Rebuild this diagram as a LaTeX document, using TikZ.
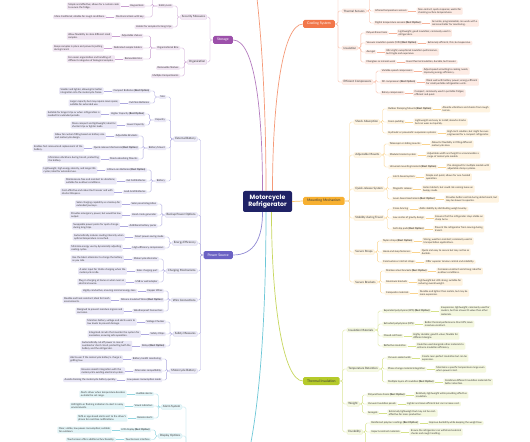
\documentclass[tikz,border=0pt]{standalone}
\usepackage{fontspec}
\setmainfont{Lato}
\newfontfamily\titlefont{Poppins}
\usetikzlibrary{calc,positioning}
\definecolor{ink}{HTML}{3A3A3A}
\definecolor{navy}{HTML}{1F2266}
\definecolor{cool}{HTML}{F2774A}
\definecolor{store}{HTML}{9C50AA}
\definecolor{mount}{HTML}{F7B031}
\definecolor{power}{HTML}{6B62C4}
\definecolor{insul}{HTML}{B5CA2A}
\definecolor{alert}{HTML}{3BB4C9}
\tikzset{
  rootbox/.style={fill=navy, text=white, rounded corners=2bp, minimum width=49bp, minimum height=21bp, align=center, inner sep=1bp, font=\titlefont\bfseries\fontsize{6.2}{7.4}\selectfont},
  topicbox/.style={fill=#1, rounded corners=1.5bp, minimum height=8bp, inner xsep=4bp, inner ysep=1bp, font=\fontsize{3.5}{4.2}\selectfont},
  subbox/.style={fill=#1!13, draw=#1!30, line width=0.25bp, rounded corners=1bp, inner xsep=1.6bp, inner ysep=1bp, text=ink, font=\fontsize{2.9}{3.4}\selectfont},
  itembox/.style={fill=#1!15, rounded corners=1bp, inner xsep=1.5bp, inner ysep=0.9bp, text=ink, font=\fontsize{2.5}{3.2}\selectfont},
  leafbox/.style={itembox=#1, align=left},
  linkline/.style={draw=#1!55, line width=0.35bp, rounded corners=1.5bp},
  branchline/.style={draw=#1!75, line width=0.7bp},
}

\begin{document}
\begin{tikzpicture}[x=1bp,y=-1bp]
\useasboundingbox (0,0) rectangle (530,442);
\clip (0,0) rectangle (530,442);
\fill[white] (0,0) rectangle (530,442);

\node[rootbox] (center) at (267.5,201.5) {Motorcycle\\Refrigerator};
% topics and children lying outside the frame
\coordinate (topbranch) at (232,-90);
\coordinate (alertin) at (228,500);
\coordinate (alertroot) at (190,500);

% storage (left, top)
\node[topicbox=store, text=white, anchor=east] (storage) at (233,40) {Storage};
\node[subbox=store, anchor=east] (secmeas) at ($(storage.west)+(-6,-23)$) {Security Measures};
\node[subbox=store, anchor=east] (organiz) at ($(storage.west)+(-6,22)$) {Organization};
\node[itembox=store, anchor=east] (safelock) at ($(secmeas.west)+(-7,-11)$) {Safety Lock};
\node[itembox=store, anchor=east] (holder) at ($(secmeas.west)+(-7,10)$) {Holder for samples for long trips};
\node[itembox=store, anchor=east] (keypad) at ($(safelock.west)+(-12,0)$) {Keypad lock};
\node[itembox=store, anchor=east] (mechlock) at ($(safelock.west)+(-12,11)$) {Mechanical lock with key};
\coordinate (lockup) at ($(safelock.west)+(-12,-14)$);
\node[itembox=store, anchor=east] (orgbins) at ($(organiz.west)+(-7,-14)$) {Organizational Bins};
\node[itembox=store, anchor=east] (remshelf) at ($(organiz.west)+(-7,6)$) {Removable Shelves};
\node[itembox=store, anchor=east] (multicomp) at ($(organiz.west)+(-7,14)$) {Multiple Compartments};
\node[itembox=store, anchor=east] (adjshelf) at ($(orgbins.west)+(-12,-12)$) {Adjustable shelves};
\node[itembox=store, anchor=east] (dedhold) at ($(orgbins.west)+(-12,0)$) {Dedicated sample holders};
\node[itembox=store, anchor=east] (rembins) at ($(orgbins.west)+(-12,11)$) {Removable bins};
\node[leafbox=store, left=8bp of keypad] (keypad-t) {Simple and effective; allows for a custom code\\to secure the fridge.};
\node[leafbox=store, left=8bp of mechlock] (mechlock-t) {More traditional; reliable for rough conditions.};
\node[leafbox=store, left=8bp of adjshelf] (adjshelf-t) {Allow flexibility to store different sized\\samples.};
\node[leafbox=store, left=8bp of dedhold] (dedhold-t) {Keeps samples in place and prevents jostling\\during transit.};
\node[leafbox=store, left=8bp of rembins] (rembins-t) {For easier organization and handling of\\different categories of biological samples.};
\foreach \c in {secmeas,organiz} \draw[linkline=store] (storage.west) -- ++(-3,0) |- (\c.east);
\foreach \c in {safelock,holder} \draw[linkline=store] (secmeas.west) -- ++(-3,0) |- (\c.east);
\foreach \c in {keypad,mechlock} \draw[linkline=store] (safelock.west) -- ++(-5,0) |- (\c.east);
\draw[linkline=store] (safelock.west) -- ++(-5,0) |- (lockup);
\foreach \c in {orgbins,remshelf,multicomp} \draw[linkline=store] (organiz.west) -- ++(-3,0) |- (\c.east);
\foreach \c in {adjshelf,dedhold,rembins} \draw[linkline=store] (orgbins.west) -- ++(-5,0) |- (\c.east);
\foreach \c in {keypad,mechlock,adjshelf,dedhold,rembins} \draw[linkline=store] (\c.west) -- (\c-t.east);

% power source (left, middle)
\node[topicbox=power, text=white, anchor=east] (power) at (233,255) {Power Source};
\node[subbox=power, anchor=east] (extbat) at ($(power.west)+(-6,-116)$) {External Battery};
\node[subbox=power, anchor=east] (backup) at ($(power.west)+(-6,-40)$) {Backup Power Options};
\node[subbox=power, anchor=east] (energy) at ($(power.west)+(-6,-12)$) {Energy Efficiency};
\node[subbox=power, anchor=east] (charging) at ($(power.west)+(-6,16)$) {Charging Mechanisms};
\node[subbox=power, anchor=east] (wires) at ($(power.west)+(-6,45)$) {Wire Connections};
\node[subbox=power, anchor=east] (psafety) at ($(power.west)+(-6,79)$) {Safety Measures};
\node[subbox=power, anchor=east] (motobat) at ($(power.west)+(-6,116)$) {Motorcycle Battery};
\node[itembox=power, anchor=east] (size) at ($(extbat.west)+(-7,-42)$) {Size};
\node[itembox=power, anchor=east] (capacity) at ($(extbat.west)+(-7,-19)$) {Capacity};
\node[itembox=power, anchor=east] (batmount) at ($(extbat.west)+(-7,9)$) {Battery Mount};
\node[itembox=power, anchor=east] (battery) at ($(extbat.west)+(-7,42)$) {Battery};
\node[itembox=power, anchor=east] (compact) at ($(size.west)+(-8,-6)$) {Compact Batteries \textbf{(Best Option)}};
\node[itembox=power, anchor=east] (fullsize) at ($(size.west)+(-8,6)$) {Full-Size Batteries};
\node[itembox=power, anchor=east] (higher) at ($(capacity.west)+(-8,-6)$) {Higher Capacity \textbf{(Best Option)}};
\node[itembox=power, anchor=east] (lower) at ($(capacity.west)+(-8,5)$) {Lower Capacity};
\node[itembox=power, anchor=east] (adjbr) at ($(batmount.west)+(-8,-12)$) {Adjustable Brackets};
\node[itembox=power, anchor=east] (quickmech) at ($(batmount.west)+(-8,0)$) {Quick-release Mechanism \textbf{(Best Option)}};
\node[itembox=power, anchor=east] (shockmt) at ($(batmount.west)+(-8,11)$) {Shock-absorbing Mounts};
\node[itembox=power, anchor=east] (liion) at ($(battery.west)+(-8,-11)$) {Lithium-ion Batteries \textbf{(Best Option)}};
\node[itembox=power, anchor=east] (gelcell) at ($(battery.west)+(-8,0)$) {Gel Cell Batteries};
\node[itembox=power, anchor=east] (leadacid) at ($(battery.west)+(-8,11)$) {Lead-Acid Batteries};
\node[itembox=power, anchor=east] (solarpan) at ($(backup.west)+(-7,-11)$) {Solar panel integration};
\node[itembox=power, anchor=east] (handcrank) at ($(backup.west)+(-7,0)$) {Hand-crank generator};
\node[itembox=power, anchor=east] (addpacks) at ($(backup.west)+(-7,11)$) {Additional battery packs};
\node[itembox=power, anchor=east] (smartsave) at ($(energy.west)+(-7,-6)$) {Smart power-saving mode};
\node[itembox=power, anchor=east] (higheff) at ($(energy.west)+(-7,5)$) {High-efficiency compressors};
\node[itembox=power, anchor=east] (alternator) at ($(charging.west)+(-7,-12)$) {Motorcycle alternator};
\node[itembox=power, anchor=east] (solarport) at ($(charging.west)+(-7,0)$) {Solar charging port};
\node[itembox=power, anchor=east] (usbwall) at ($(charging.west)+(-7,11)$) {USB or wall adapter};
\node[itembox=power, anchor=east] (copper) at ($(wires.west)+(-7,-9)$) {Copper Wires};
\node[itembox=power, anchor=east] (silicone) at ($(wires.west)+(-7,0)$) {Silicone Insulated Wires \textbf{(Best Option)}};
\node[itembox=power, anchor=east] (weatherc) at ($(wires.west)+(-7,11)$) {Weatherproof Connectors};
\node[itembox=power, anchor=east] (voltage) at ($(psafety.west)+(-7,-12)$) {Voltage Checker};
\node[itembox=power, anchor=east] (chips) at ($(psafety.west)+(-7,0)$) {Safety Chips};
\node[itembox=power, anchor=east] (relays) at ($(psafety.west)+(-7,12)$) {Relays \textbf{(Best Option)}};
\node[itembox=power, anchor=east] (healthmon) at ($(motobat.west)+(-7,-12)$) {Battery health monitoring};
\node[itembox=power, anchor=east] (altcompat) at ($(motobat.west)+(-7,0)$) {Alternator compatibility};
\node[itembox=power, anchor=east] (lowpower) at ($(motobat.west)+(-7,9)$) {Low power consumption mode};
\node[leafbox=power, left=8bp of compact] (compact-t) {Smaller and lighter, allowing for better\\integration into the motorcycle frame.};
\node[leafbox=power, left=8bp of fullsize] (fullsize-t) {Larger capacity but may require more space;\\suitable for extended use.};
\node[leafbox=power, left=8bp of higher] (higher-t) {Suitable for longer trips or when refrigeration is\\needed for extended periods.};
\node[leafbox=power, left=8bp of lower] (lower-t) {More compact and lightweight; ideal for\\shorter trips or lighter loads.};
\node[leafbox=power, left=8bp of adjbr] (adjbr-t) {Allow for custom fitting based on battery size\\and motorcycle design.};
\node[leafbox=power, left=8bp of quickmech] (quickmech-t) {Enables fast removal and replacement of the\\battery.};
\node[leafbox=power, left=8bp of shockmt] (shockmt-t) {Minimizes vibrations during transit, protecting\\the battery.};
\node[leafbox=power, left=8bp of liion] (liion-t) {Lightweight, high energy density, and longer life\\cycles; ideal for extended use.};
\node[leafbox=power, left=8bp of gelcell] (gelcell-t) {Maintenance-free and resistant to vibrations;\\suitable for outdoor conditions.};
\node[leafbox=power, left=8bp of leadacid] (leadacid-t) {Cost-effective and robust but heavier and with\\shorter lifespans.};
\node[leafbox=power, left=8bp of solarpan] (solarpan-t) {Solar charging capability as a backup for\\extended journeys.};
\node[leafbox=power, left=8bp of handcrank] (handcrank-t) {Provides emergency power, but would be low\\output.};
\node[leafbox=power, left=8bp of addpacks] (addpacks-t) {Swappable power packs for quick change\\during long trips.};
\node[leafbox=power, left=8bp of smartsave] (smartsave-t) {Automatically reduces cooling intensity when\\optimal temperature is reached.};
\node[leafbox=power, left=8bp of higheff] (higheff-t) {Minimize energy use by dynamically adjusting\\cooling cycles.};
\node[leafbox=power, left=8bp of alternator] (alternator-t) {Use the bike's alternator to charge the battery\\as you ride.};
\node[leafbox=power, left=8bp of solarport] (solarport-t) {A solar input for trickle charging when the\\motorcycle is idle.};
\node[leafbox=power, left=8bp of usbwall] (usbwall-t) {Plug-in charging at home or when near an\\electrical source.};
\node[leafbox=power, left=8bp of copper] (copper-t) {Highly conductive, ensuring minimal energy loss.};
\node[leafbox=power, left=8bp of silicone] (silicone-t) {Flexible and heat-resistant; ideal for harsh\\environments.};
\node[leafbox=power, left=8bp of weatherc] (weatherc-t) {Designed to prevent moisture ingress and\\corrosion.};
\node[leafbox=power, left=8bp of voltage] (voltage-t) {Monitors battery voltage and alerts users to\\low levels to prevent damage.};
\node[leafbox=power, left=8bp of chips] (chips-t) {Integrated circuits that monitor the system for\\anomalies, ensuring safe operation.};
\node[leafbox=power, left=8bp of relays] (relays-t) {Automatically cut off power in case of\\overload or short circuit, protecting both the\\battery and the refrigerator.};
\node[leafbox=power, left=8bp of healthmon] (healthmon-t) {Alerts user if the motorcycle battery's charge is\\getting low.};
\node[leafbox=power, left=8bp of altcompat] (altcompat-t) {Ensures smooth integration with the\\motorcycle's existing electrical system.};
\node[leafbox=power, left=8bp of lowpower] (lowpower-t) {Avoids draining the motorcycle battery quickly.};
\foreach \c in {extbat,backup,energy,charging,wires,psafety,motobat} \draw[linkline=power] (power.west) -- ++(-3,0) |- (\c.east);
\foreach \c in {size,capacity,batmount,battery} \draw[linkline=power] (extbat.west) -- ++(-3,0) |- (\c.east);
\foreach \c in {compact,fullsize} \draw[linkline=power] (size.west) -- ++(-4,0) |- (\c.east);
\foreach \c in {higher,lower} \draw[linkline=power] (capacity.west) -- ++(-4,0) |- (\c.east);
\foreach \c in {adjbr,quickmech,shockmt} \draw[linkline=power] (batmount.west) -- ++(-4,0) |- (\c.east);
\foreach \c in {liion,gelcell,leadacid} \draw[linkline=power] (battery.west) -- ++(-4,0) |- (\c.east);
\foreach \c in {solarpan,handcrank,addpacks} \draw[linkline=power] (backup.west) -- ++(-3,0) |- (\c.east);
\foreach \c in {smartsave,higheff} \draw[linkline=power] (energy.west) -- ++(-3,0) |- (\c.east);
\foreach \c in {alternator,solarport,usbwall} \draw[linkline=power] (charging.west) -- ++(-3,0) |- (\c.east);
\foreach \c in {copper,silicone,weatherc} \draw[linkline=power] (wires.west) -- ++(-3,0) |- (\c.east);
\foreach \c in {voltage,chips,relays} \draw[linkline=power] (psafety.west) -- ++(-3,0) |- (\c.east);
\foreach \c in {healthmon,altcompat,lowpower} \draw[linkline=power] (motobat.west) -- ++(-3,0) |- (\c.east);
\foreach \c in {compact,fullsize,higher,lower,adjbr,quickmech,shockmt,liion,gelcell,leadacid,solarpan,handcrank,addpacks,smartsave,higheff,alternator,solarport,usbwall,copper,silicone,weatherc,voltage,chips,relays,healthmon,altcompat,lowpower}
  \draw[linkline=power] (\c.west) -- (\c-t.east);

% alerts (left, bottom; its topic lies below the frame)
\node[subbox=alert, anchor=east] (alarm) at (182,407) {Alarm System};
\node[subbox=alert, anchor=east] (display) at (182,436) {Display Options};
\node[itembox=alert, anchor=east] (audible) at ($(alarm.west)+(-7,-13)$) {Audible alarms};
\node[itembox=alert, anchor=east] (visual) at ($(alarm.west)+(-7,-1)$) {Visual indicators};
\node[itembox=alert, anchor=east] (remote) at ($(alarm.west)+(-7,11)$) {Remote alerts};
\node[itembox=alert, anchor=east] (lcd) at ($(display.west)+(-7,-6)$) {LCD display \textbf{(Best Option)}};
\node[itembox=alert, anchor=east] (touch) at ($(display.west)+(-7,3.5)$) {Touchscreen interface};
\node[leafbox=alert, left=8bp of audible] (audible-t) {Alerts driver when temperature deviates\\outside the set range.};
\node[leafbox=alert, left=8bp of visual] (visual-t) {LED lights or flashing indicators to alert in noisy\\environments.};
\node[leafbox=alert, left=8bp of remote] (remote-t) {SMS or app-based alerts sent to the driver's\\phone for real-time notifications.};
\node[leafbox=alert, left=8bp of lcd] (lcd-t) {Clear, visible, low power consumption; suitable\\for outdoors.};
\node[leafbox=alert, left=8bp of touch] (touch-t) {Touchscreen offers additional functionality.};
\foreach \c in {alarm,display} \draw[linkline=alert] (alertroot) -- ++(-4,0) |- (\c.east);
\foreach \c in {audible,visual,remote} \draw[linkline=alert] (alarm.west) -- ++(-3,0) |- (\c.east);
\foreach \c in {lcd,touch} \draw[linkline=alert] (display.west) -- ++(-3,0) |- (\c.east);
\foreach \c in {audible,visual,remote,lcd,touch} \draw[linkline=alert] (\c.west) -- (\c-t.east);

% cooling system (right, top)
\node[topicbox=cool, text=white, anchor=west] (cooling) at (303,24) {Cooling System};
\node[subbox=cool, anchor=west] (thermsens) at ($(cooling.east)+(7,-13)$) {Thermal Sensors};
\node[subbox=cool, anchor=west] (insulat) at ($(cooling.east)+(7,24)$) {Insulation};
\node[subbox=cool, anchor=west] (effcomp) at ($(cooling.east)+(7,58)$) {Efficient Compressors};
\coordinate (coolup) at ($(cooling.east)+(7,-40)$);
\coordinate (sensup) at ($(thermsens.east)+(7,-16)$);
\node[itembox=cool, anchor=west] (infrared) at ($(thermsens.east)+(7,0)$) {Infrared temperature sensors};
\node[itembox=cool, anchor=west] (digital) at ($(thermsens.east)+(7,12)$) {Digital temperature sensors \textbf{(Best Option)}};
\node[itembox=cool, anchor=west] (polyfoam) at ($(insulat.east)+(7,-15)$) {Polyurethane foam};
\node[itembox=cool, anchor=west] (vip) at ($(insulat.east)+(7,-5)$) {Vacuum insulation panels (VIPs) \textbf{(Best Option)}};
\node[itembox=cool, anchor=west] (aerogel) at ($(insulat.east)+(7,4)$) {Aerogel};
\node[itembox=cool, anchor=west] (fiberglass) at ($(insulat.east)+(7,14)$) {Fiberglass or mineral wool};
\node[itembox=cool, anchor=west] (varspeed) at ($(effcomp.east)+(7,-11)$) {Variable-speed compressors};
\node[itembox=cool, anchor=west] (dccomp) at ($(effcomp.east)+(7,0)$) {DC compressors \textbf{(Best Option)}};
\node[itembox=cool, anchor=west] (rotary) at ($(effcomp.east)+(7,11)$) {Rotary compressors};
\node[leafbox=cool, right=8bp of infrared] (infrared-t) {Non-contact, quick response; useful for\\checking surface temperatures.};
\node[leafbox=cool, right=8bp of digital] (digital-t) {Accurate, programmable; can work with a\\microcontroller for monitoring.};
\node[leafbox=cool, right=8bp of polyfoam] (polyfoam-t) {Lightweight, good insulation; commonly used in\\refrigerators.};
\node[leafbox=cool, right=8bp of vip] (vip-t) {Extremely efficient, thin, but expensive.};
\node[leafbox=cool, right=8bp of aerogel] (aerogel-t) {Ultra-light; exceptional insulation performance,\\but fragile and expensive.};
\node[leafbox=cool, right=8bp of fiberglass] (fiberglass-t) {Good thermal insulation, durable, but heavier.};
\node[leafbox=cool, right=8bp of varspeed] (varspeed-t) {Adjust speed according to cooling needs,\\improving energy efficiency.};
\node[leafbox=cool, right=8bp of dccomp] (dccomp-t) {Work well with battery power; energy efficient\\for small portable refrigeration units.};
\node[leafbox=cool, right=8bp of rotary] (rotary-t) {Compact, commonly used in portable fridges;\\efficient and quiet.};
\foreach \c in {thermsens,insulat,effcomp} \draw[linkline=cool] (cooling.east) -- ++(3,0) |- (\c.west);
\draw[linkline=cool] (cooling.east) -- ++(3,0) |- (coolup);
\foreach \c in {infrared,digital} \draw[linkline=cool] (thermsens.east) -- ++(3,0) |- (\c.west);
\draw[linkline=cool] (thermsens.east) -- ++(3,0) |- (sensup);
\foreach \c in {polyfoam,vip,aerogel,fiberglass} \draw[linkline=cool] (insulat.east) -- ++(3,0) |- (\c.west);
\foreach \c in {varspeed,dccomp,rotary} \draw[linkline=cool] (effcomp.east) -- ++(3,0) |- (\c.west);
\foreach \c in {infrared,digital,polyfoam,vip,aerogel,fiberglass,varspeed,dccomp,rotary}
  \draw[linkline=cool] (\c.east) -- (\c-t.west);

% mounting mechanism (right, middle)
\node[topicbox=mount, text=ink, anchor=west] (mount) at (303,201) {Mounting Mechanism};
\node[subbox=mount, anchor=west] (shock) at ($(mount.east)+(9,-79)$) {Shock Absorption};
\node[subbox=mount, anchor=west] (adjmount) at ($(mount.east)+(9,-46)$) {Adjustable Mounts};
\node[subbox=mount, anchor=west] (quickrel) at ($(mount.east)+(9,-12)$) {Quick-release System};
\node[subbox=mount, anchor=west] (stability) at ($(mount.east)+(9,17)$) {Stability during Travel};
\node[subbox=mount, anchor=west] (straps) at ($(mount.east)+(9,51)$) {Secure Straps};
\node[subbox=mount, anchor=west] (brackets) at ($(mount.east)+(9,81)$) {Secure Brackets};
\node[itembox=mount, anchor=west] (rubber) at ($(shock.east)+(7,-13)$) {Rubber Damping Mounts \textbf{(Best Option)}};
\node[itembox=mount, anchor=west] (foampad) at ($(shock.east)+(7,0)$) {Foam padding};
\node[itembox=mount, anchor=west] (hydraulic) at ($(shock.east)+(7,11)$) {Hydraulic or pneumatic suspension systems};
\node[itembox=mount, anchor=west] (telescopic) at ($(adjmount.east)+(7,-11)$) {Telescopic or sliding mounts};
\node[itembox=mount, anchor=west] (modular) at ($(adjmount.east)+(7,0)$) {Modular bracket system};
\node[itembox=mount, anchor=west] (universal) at ($(adjmount.east)+(7,12)$) {Universal mounting brackets \textbf{(Best Option)}};
\node[itembox=mount, anchor=west] (latch) at ($(quickrel.east)+(7,-12)$) {Latch-based system};
\node[itembox=mount, anchor=west] (magnetic) at ($(quickrel.east)+(7,0)$) {Magnetic release};
\node[itembox=mount, anchor=west] (lever) at ($(quickrel.east)+(7,10)$) {Lever-based mechanism \textbf{(Best Option)}};
\node[itembox=mount, anchor=west] (crossbr) at ($(stability.east)+(7,-9)$) {Cross-bracing};
\node[itembox=mount, anchor=west] (lowcog) at ($(stability.east)+(7,0)$) {Low center of gravity design};
\node[itembox=mount, anchor=west] (antislip) at ($(stability.east)+(7,11)$) {Anti-slip pads \textbf{(Best Option)}};
\node[itembox=mount, anchor=west] (nylon) at ($(straps.east)+(7,-11)$) {Nylon straps \textbf{(Best Option)}};
\node[itembox=mount, anchor=west] (hookloop) at ($(straps.east)+(7,0)$) {Hook-and-loop fasteners};
\node[itembox=mount, anchor=west] (cambuckle) at ($(straps.east)+(7,10)$) {Cam buckle or ratchet straps};
\node[itembox=mount, anchor=west] (stainless) at ($(brackets.east)+(7,-11)$) {Stainless steel brackets \textbf{(Best Option)}};
\node[itembox=mount, anchor=west] (alubr) at ($(brackets.east)+(7,0)$) {Aluminum brackets};
\node[itembox=mount, anchor=west] (composite) at ($(brackets.east)+(7,11)$) {Composite materials};
\node[leafbox=mount, right=8bp of rubber] (rubber-t) {Absorbs vibrations and shocks from rough\\terrain.};
\node[leafbox=mount, right=8bp of foampad] (foampad-t) {Lightweight and easy to install; absorbs shocks\\but can wear out quickly.};
\node[leafbox=mount, right=8bp of hydraulic] (hydraulic-t) {High-tech solution, but might be over-\\engineered for a compact refrigerator.};
\node[leafbox=mount, right=8bp of telescopic] (telescopic-t) {Allow for flexibility in fitting different\\motorcycle sizes.};
\node[leafbox=mount, right=8bp of modular] (modular-t) {Adjustable width and height to accommodate a\\range of motorcycle models.};
\node[leafbox=mount, right=8bp of universal] (universal-t) {Pre-designed for multiple models with\\adjustable clamp systems.};
\node[leafbox=mount, right=8bp of latch] (latch-t) {Simple and quick; allows for one-handed\\operation.};
\node[leafbox=mount, right=8bp of magnetic] (magnetic-t) {Instant detach, but could risk coming loose on\\bumpy roads.};
\node[leafbox=mount, right=8bp of lever] (lever-t) {Provides better control during detachment, but\\may be slower to operate.};
\node[leafbox=mount, right=8bp of crossbr] (crossbr-t) {Adds stability by distributing weight evenly.};
\node[leafbox=mount, right=8bp of lowcog] (lowcog-t) {Ensures that the refrigerator stays stable on\\sharp turns.};
\node[leafbox=mount, right=8bp of antislip] (antislip-t) {Prevent the refrigerator from moving during\\transit.};
\node[leafbox=mount, right=8bp of nylon] (nylon-t) {Strong, weather-resistant; commonly used in\\transportation applications.};
\node[leafbox=mount, right=8bp of hookloop] (hookloop-t) {Quick and easy to secure but may not be as\\durable.};
\node[leafbox=mount, right=8bp of cambuckle] (cambuckle-t) {Offer superior tension control and reliability.};
\node[leafbox=mount, right=8bp of stainless] (stainless-t) {Corrosion-resistant and strong; ideal for\\outdoor conditions.};
\node[leafbox=mount, right=8bp of alubr] (alubr-t) {Lightweight but still strong; suitable for\\reducing overall weight.};
\node[leafbox=mount, right=8bp of composite] (composite-t) {Durable and lighter than metals, but may be\\more expensive.};
\foreach \c in {shock,adjmount,quickrel,stability,straps,brackets} \draw[linkline=mount] (mount.east) -- ++(5,0) |- (\c.west);
\foreach \c in {rubber,foampad,hydraulic} \draw[linkline=mount] (shock.east) -- ++(3,0) |- (\c.west);
\foreach \c in {telescopic,modular,universal} \draw[linkline=mount] (adjmount.east) -- ++(3,0) |- (\c.west);
\foreach \c in {latch,magnetic,lever} \draw[linkline=mount] (quickrel.east) -- ++(3,0) |- (\c.west);
\foreach \c in {crossbr,lowcog,antislip} \draw[linkline=mount] (stability.east) -- ++(3,0) |- (\c.west);
\foreach \c in {nylon,hookloop,cambuckle} \draw[linkline=mount] (straps.east) -- ++(3,0) |- (\c.west);
\foreach \c in {stainless,alubr,composite} \draw[linkline=mount] (brackets.east) -- ++(3,0) |- (\c.west);
\foreach \c in {rubber,foampad,hydraulic,telescopic,modular,universal,latch,magnetic,lever,crossbr,lowcog,antislip,nylon,hookloop,cambuckle,stainless,alubr,composite}
  \draw[linkline=mount] (\c.east) -- (\c-t.west);

% thermal insulation (right, bottom)
\node[topicbox=insul, text=ink, anchor=west] (thermins) at (303,381) {Thermal Insulation};
\node[subbox=insul, anchor=west] (insmat) at ($(thermins.east)+(7,-51)$) {Insulation Materials};
\node[subbox=insul, anchor=west] (tempret) at ($(thermins.east)+(7,-12)$) {Temperature Retention};
\node[subbox=insul, anchor=west] (weight) at ($(thermins.east)+(7,23)$) {Weight};
\node[subbox=insul, anchor=west] (durab) at ($(thermins.east)+(7,51)$) {Durability};
\node[itembox=insul, anchor=west] (eps) at ($(insmat.east)+(7,-19)$) {Expanded polystyrene (EPS) \textbf{(Best Option)}};
\node[itembox=insul, anchor=west] (xps) at ($(insmat.east)+(7,-6)$) {Extruded polystyrene (XPS)};
\node[itembox=insul, anchor=west] (closedcell) at ($(insmat.east)+(7,6)$) {Closed-cell foam};
\node[itembox=insul, anchor=west] (reflective) at ($(insmat.east)+(7,16)$) {Reflective insulation};
\node[itembox=insul, anchor=west] (vacwalls) at ($(tempret.east)+(7,-11)$) {Vacuum-sealed walls};
\node[itembox=insul, anchor=west] (pcm) at ($(tempret.east)+(7,0)$) {Phase change material integration};
\node[itembox=insul, anchor=west] (multilayer) at ($(tempret.east)+(7,13)$) {Multiple layers of insulation \textbf{(Best Option)}};
\node[itembox=insul, anchor=west] (pufoam) at ($(weight.east)+(7,-9)$) {Polyurethane Foam \textbf{(Best Option)}};
\node[itembox=insul, anchor=west] (vippanel) at ($(weight.east)+(7,0)$) {Vacuum Insulation panels};
\node[itembox=insul, anchor=west] (aerogels) at ($(weight.east)+(7,9)$) {Aerogels};
\node[itembox=insul, anchor=west] (reinforced) at ($(durab.east)+(7,-9)$) {Reinforced polymer coatings \textbf{(Best Option)}};
\node[itembox=insul, anchor=west] (impact) at ($(durab.east)+(7,0)$) {Impact-resistant materials};
\coordinate (durdown) at ($(durab.east)+(7,16)$);
\node[leafbox=insul, right=8bp of eps] (eps-t) {Inexpensive, lightweight; commonly used for\\coolers, but has a lower R-value than other\\materials.};
\node[leafbox=insul, right=8bp of xps] (xps-t) {Better thermal performance than EPS; more\\moisture-resistant.};
\node[leafbox=insul, right=8bp of closedcell] (closedcell-t) {Highly durable; good R-value; flexible for\\different designs.};
\node[leafbox=insul, right=8bp of reflective] (reflective-t) {Could be used alongside other materials to\\enhance insulation efficiency.};
\node[leafbox=insul, right=8bp of vacwalls] (vacwalls-t) {Create near-perfect insulation but can be\\expensive.};
\node[leafbox=insul, right=8bp of pcm] (pcm-t) {Maintains a specific temperature range even\\when power is lost.};
\node[leafbox=insul, right=8bp of multilayer] (multilayer-t) {Combines different insulation materials for\\better retention.};
\node[leafbox=insul, right=8bp of pufoam] (pufoam-t) {Relatively lightweight while providing effective\\insulation.};
\node[leafbox=insul, right=8bp of vippanel] (vippanel-t) {Lighter and more efficient but can increase cost.};
\node[leafbox=insul, right=8bp of aerogels] (aerogels-t) {Extremely lightweight but may not be cost-\\effective for mass production.};
\node[leafbox=insul, right=8bp of reinforced] (reinforced-t) {Improve durability while keeping the weight low.};
\node[leafbox=insul, right=8bp of impact] (impact-t) {Ensure the refrigerator can withstand external\\shocks and rough handling.};
\foreach \c in {insmat,tempret,weight,durab} \draw[linkline=insul] (thermins.east) -- ++(3,0) |- (\c.west);
\foreach \c in {eps,xps,closedcell,reflective} \draw[linkline=insul] (insmat.east) -- ++(3,0) |- (\c.west);
\foreach \c in {vacwalls,pcm,multilayer} \draw[linkline=insul] (tempret.east) -- ++(3,0) |- (\c.west);
\foreach \c in {pufoam,vippanel,aerogels} \draw[linkline=insul] (weight.east) -- ++(3,0) |- (\c.west);
\foreach \c in {reinforced,impact} \draw[linkline=insul] (durab.east) -- ++(3,0) |- (\c.west);
\draw[linkline=insul] (durab.east) -- ++(3,0) |- (durdown);
\foreach \c in {eps,xps,closedcell,reflective,vacwalls,pcm,multilayer,pufoam,vippanel,aerogels,reinforced,impact}
  \draw[linkline=insul] (\c.east) -- (\c-t.west);

% branches from the centre
\draw[branchline=store] ($(center.north)+(-5,0)$) .. controls +(0,-80) and +(22,0) .. (storage.east);
\draw[branchline=cool] ($(center.north)+(-1.5,0)$) .. controls +(0,-150) and +(20,0) .. (topbranch);
\draw[branchline=cool] ($(center.north)+(5,0)$) .. controls +(0,-80) and +(-22,0) .. (cooling.west);
\draw[branchline=mount] (center.east) -- (mount.west);
\draw[branchline=power] ($(center.south)+(-5,0)$) .. controls +(0,25) and +(22,0) .. (power.east);
\draw[branchline=alert] ($(center.south)+(-1.5,0)$) .. controls +(0,168) and +(22,-10) .. (alertin);
\draw[branchline=insul] ($(center.south)+(4,0)$) .. controls +(0,90) and +(-20,0) .. (thermins.west);
\end{tikzpicture}
\end{document}
